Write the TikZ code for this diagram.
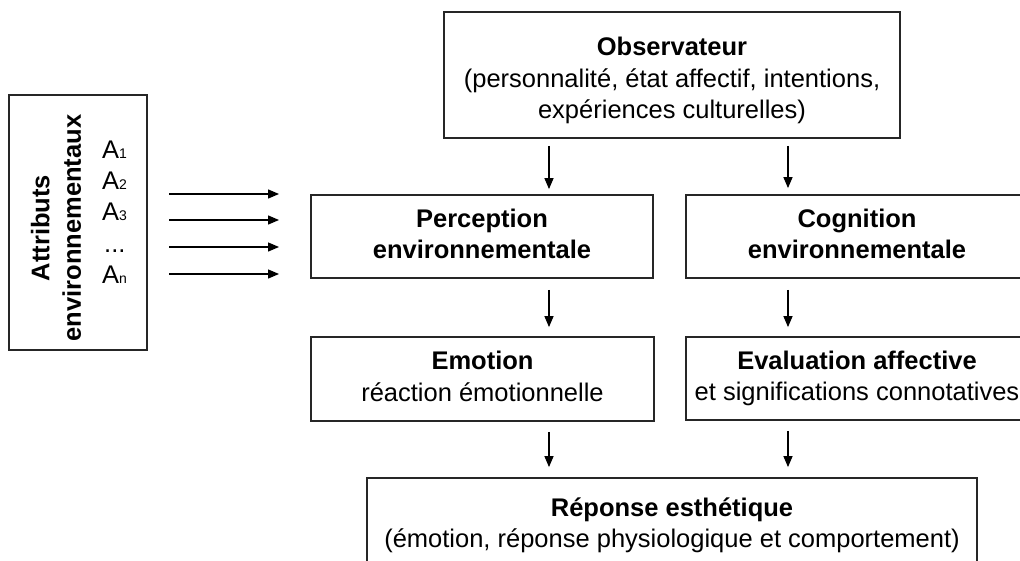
\documentclass[tikz,border=0pt]{standalone}
\usepackage{fontspec}
\setmainfont{Liberation Sans}
\usetikzlibrary{arrows.meta}
\tikzset{
  box/.style={draw=black!85, line width=1.8pt, align=center, inner sep=0pt,
    font=\fontsize{25.5}{31.5}\selectfont},
  lbl/.style={inner sep=0pt, font=\fontsize{25.5}{31.5}\selectfont},
  flow/.style={line width=1.3pt, -{Triangle[length=11pt,width=9pt]}},
}
\newcommand{\sbs}[1]{{\fontsize{14}{14}\selectfont #1}}
\begin{document}
\begin{tikzpicture}[x=1pt,y=-1pt]
\path[use as bounding box, clip] (0,0) rectangle (1020,560);
\fill[white] (0,0) rectangle (1020,560);
% boxes
\node[box, minimum width=456pt, minimum height=126pt] (obs) at (672,75)
  {\rule{0pt}{34pt}\textbf{Observateur}\strut\\(personnalité, état affectif, intentions,\strut\\expériences culturelles)\strut};
\node[box, minimum width=342pt, minimum height=83pt] (perc) at (482,236.5)
  {\textbf{Perception}\strut\\\textbf{environnementale}\strut};
\node[box, minimum width=342pt, minimum height=83pt] (cog) at (857,236.5)
  {\textbf{Cognition}\strut\\\textbf{environnementale}\strut};
\node[box, minimum width=343pt, minimum height=84pt] (emo) at (482.5,379)
  {\textbf{Emotion}\strut\\réaction émotionnelle\strut};
\node[box, minimum width=342pt, minimum height=83pt] (eva) at (857,378.5)
  {\textbf{Evaluation affective}\strut\\et significations connotatives\strut};
\node[box, minimum width=610pt, minimum height=88pt] (rep) at (672,522)
  {\rule{0pt}{29pt}\textbf{Réponse esthétique}\strut\\(émotion, réponse physiologique et comportement)\strut};
\node[box, minimum width=138pt, minimum height=255pt] (attr) at (78,222.5) {};
\node[lbl, rotate=90, align=center] (attrtxt) at (56,228)
  {\textbf{Attributs}\\\textbf{environnementaux}};
\node[lbl, anchor=base west] (a1) at (102,158) {A\sbs{1}};
\node[lbl, anchor=base west] (a2) at (102,189) {A\sbs{2}};
\node[lbl, anchor=base west] (a3) at (102,220) {A\sbs{3}};
\node[lbl, anchor=base west] (a4) at (104,252) {...};
\node[lbl, anchor=base west] (an) at (102,283) {A\sbs{n}};
% arrows
\coordinate (xl) at (549,0);
\coordinate (xr) at (788,0);
\draw[flow, shorten <=7pt, shorten >=5pt] (obs.south -| xl) -- (perc.north -| xl);
\draw[flow, shorten <=7pt, shorten >=6pt] (obs.south -| xr) -- (cog.north -| xr);
\draw[flow, shorten <=11pt, shorten >=9pt] (perc.south -| xl) -- (emo.north -| xl);
\draw[flow, shorten <=11pt, shorten >=9pt] (cog.south -| xr) -- (eva.north -| xr);
\draw[flow, shorten <=10pt, shorten >=10pt] (emo.south -| xl) -- (rep.north -| xl);
\draw[flow, shorten <=10pt, shorten >=10pt] (eva.south -| xr) -- (rep.north -| xr);
\foreach \i/\y in {1/194,2/220,3/247,4/274}{
  \coordinate (s\i) at (169,\y);
  \coordinate (e\i) at (279,\y);
  \draw[flow] (s\i) -- (e\i);
}
\end{tikzpicture}
\end{document}
